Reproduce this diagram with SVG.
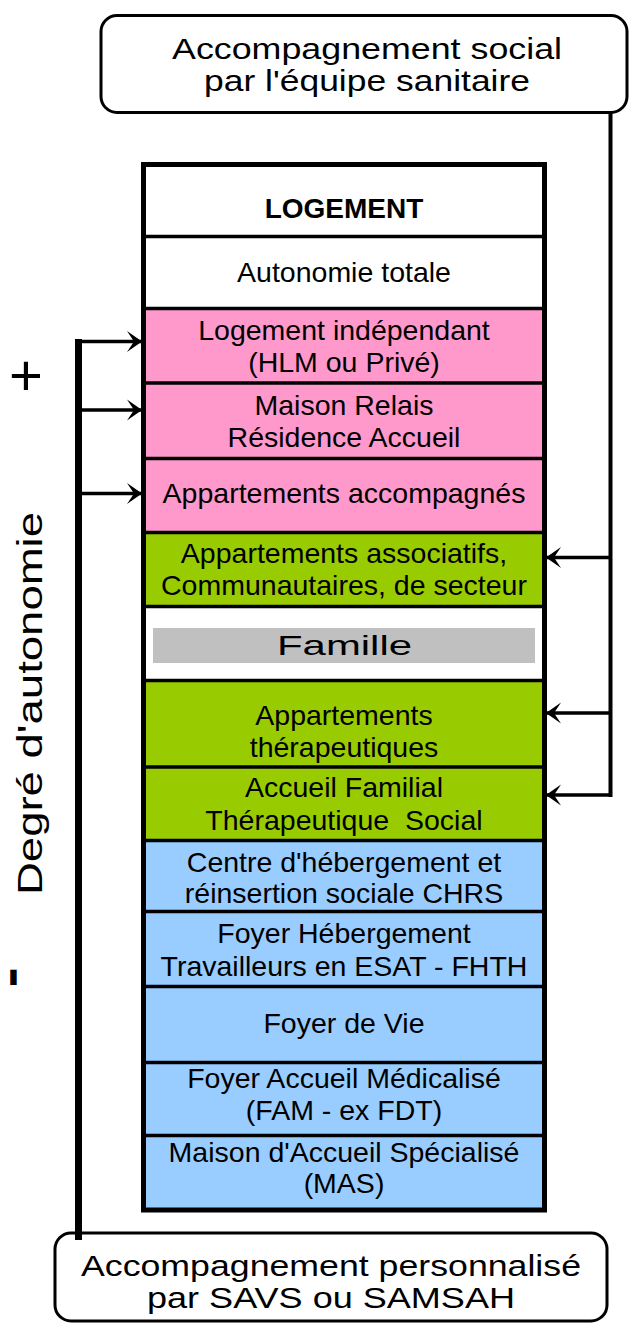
<svg xmlns="http://www.w3.org/2000/svg" width="630" height="1323" viewBox="0 0 630 1323">
<style>
  .t { font-family: "Liberation Sans", Arial, sans-serif; font-size: 28.5px; fill: #000; text-anchor: middle; }
  .b { font-weight: bold; font-size: 28px; }
  .big { font-family: "Liberation Sans", Arial, sans-serif; font-size: 28.6px; fill: #000; text-anchor: middle; }
  .pink { fill: #ff99cc; }
  .green { fill: #99cc00; }
  .blue { fill: #99ccff; }
  .white { fill: #ffffff; }
  .sep { stroke: #000; stroke-width: 3.5; }
  .conn { stroke: #000; fill: none; }
  .box { fill: #fff; stroke: #000; stroke-width: 3; }
</style>
<defs>
  <marker id="arr" viewBox="-16 -12 18 24" refX="0" refY="0" markerWidth="18" markerHeight="24" markerUnits="userSpaceOnUse" orient="auto">
    <path d="M1,0 L-14,-10.5 L-7,0 L-14,10.5 Z" fill="#000"/>
  </marker>
</defs>
<rect width="630" height="1323" fill="#fff"/>

<g id="top-box">
  <rect class="box" x="101" y="15.5" width="526" height="97" rx="16"/>
  <text class="big" x="367" y="59" textLength="390" lengthAdjust="spacingAndGlyphs">Accompagnement social</text>
  <text class="big" x="367" y="91" textLength="326" lengthAdjust="spacingAndGlyphs">par l'équipe sanitaire</text>
</g>

<g id="bottom-box">
  <rect class="box" x="55" y="1233" width="552" height="88" rx="16"/>
  <text class="big" x="331" y="1276" textLength="500" lengthAdjust="spacingAndGlyphs">Accompagnement personnalisé</text>
  <text class="big" x="331" y="1308" textLength="368" lengthAdjust="spacingAndGlyphs">par SAVS ou SAMSAH</text>
</g>

<g id="axis-labels">
  <text x="26" y="395" font-family="'Liberation Sans', Arial, sans-serif" font-size="58" text-anchor="middle" fill="#000">+</text>
  <text transform="translate(42,703.5) rotate(-90)" font-family="'Liberation Sans', Arial, sans-serif" font-size="35" text-anchor="middle" fill="#000" textLength="383" lengthAdjust="spacingAndGlyphs">Degré d'autonomie</text>
  <text transform="translate(7,977.5) rotate(90) scale(1.6,1)" font-family="'Liberation Sans', Arial, sans-serif" font-size="24" font-weight="bold" text-anchor="middle" fill="#000" stroke="#000" stroke-width="3.5">-</text>
</g>

<g id="row-logement">
  <rect class="white" x="143.5" y="164.5" width="401" height="72"/>
  <text class="t b" x="344" y="218">LOGEMENT</text>
</g>
<g id="row-autonomie">
  <rect class="white" x="143.5" y="236.5" width="401" height="72"/>
  <text class="t" x="344" y="282">Autonomie totale</text>
</g>
<g id="row-logement-independant">
  <rect class="pink" x="143.5" y="308.5" width="401" height="74.5"/>
  <text class="t" x="344" y="340">Logement indépendant</text>
  <text class="t" x="344" y="372">(HLM ou Privé)</text>
</g>
<g id="row-maison-relais">
  <rect class="pink" x="143.5" y="383" width="401" height="75.5"/>
  <text class="t" x="344" y="415">Maison Relais</text>
  <text class="t" x="344" y="447">Résidence Accueil</text>
</g>
<g id="row-appartements-accompagnes">
  <rect class="pink" x="143.5" y="458.5" width="401" height="74"/>
  <text class="t" x="344" y="503">Appartements accompagnés</text>
</g>
<g id="row-appartements-associatifs">
  <rect class="green" x="143.5" y="532.5" width="401" height="74"/>
  <text class="t" x="344" y="563">Appartements associatifs,</text>
  <text class="t" x="344" y="595">Communautaires, de secteur</text>
</g>
<g id="row-famille">
  <rect class="white" x="143.5" y="606.5" width="401" height="74"/>
  <rect x="153" y="628" width="382" height="35" fill="#c0c0c0"/>
  <text class="t" x="344.5" y="655" font-size="30" textLength="135" lengthAdjust="spacingAndGlyphs">Famille</text>
</g>
<g id="row-appartements-therapeutiques">
  <rect class="green" x="143.5" y="680.5" width="401" height="86.5"/>
  <text class="t" x="344" y="725">Appartements</text>
  <text class="t" x="344" y="757">thérapeutiques</text>
</g>
<g id="row-accueil-familial">
  <rect class="green" x="143.5" y="767" width="401" height="73.5"/>
  <text class="t" x="344" y="797">Accueil Familial</text>
  <text class="t" x="344" y="830" style="white-space:pre" xml:space="preserve">Thérapeutique  Social</text>
</g>
<g id="row-chrs">
  <rect class="blue" x="143.5" y="840.5" width="401" height="71"/>
  <text class="t" x="344" y="872">Centre d'hébergement et</text>
  <text class="t" x="344" y="903">réinsertion sociale CHRS</text>
</g>
<g id="row-fhth">
  <rect class="blue" x="143.5" y="911.5" width="401" height="75"/>
  <text class="t" x="344" y="943">Foyer Hébergement</text>
  <text class="t" x="344" y="976">Travailleurs en ESAT - FHTH</text>
</g>
<g id="row-foyer-vie">
  <rect class="blue" x="143.5" y="986.5" width="401" height="76"/>
  <text class="t" x="344" y="1033">Foyer de Vie</text>
</g>
<g id="row-fam">
  <rect class="blue" x="143.5" y="1062.5" width="401" height="73"/>
  <text class="t" x="344" y="1088">Foyer Accueil Médicalisé</text>
  <text class="t" x="344" y="1120">(FAM - ex FDT)</text>
</g>
<g id="row-mas">
  <rect class="blue" x="143.5" y="1135.5" width="401" height="74.5"/>
  <text class="t" x="344" y="1162">Maison d'Accueil Spécialisé</text>
  <text class="t" x="344" y="1193">(MAS)</text>
</g>

<g id="column-frame">
  <line class="sep" x1="143" y1="236.5" x2="545" y2="236.5" stroke-width="6"/>
  <line class="sep" x1="143" y1="308.5" x2="545" y2="308.5"/>
  <line class="sep" x1="143" y1="383" x2="545" y2="383"/>
  <line class="sep" x1="143" y1="458.5" x2="545" y2="458.5"/>
  <line class="sep" x1="143" y1="532.5" x2="545" y2="532.5"/>
  <line class="sep" x1="143" y1="606.5" x2="545" y2="606.5" stroke-width="5"/>
  <line class="sep" x1="143" y1="680.5" x2="545" y2="680.5" stroke-width="4.5"/>
  <line class="sep" x1="143" y1="767" x2="545" y2="767"/>
  <line class="sep" x1="143" y1="840.5" x2="545" y2="840.5"/>
  <line class="sep" x1="143" y1="911.5" x2="545" y2="911.5"/>
  <line class="sep" x1="143" y1="986.5" x2="545" y2="986.5"/>
  <line class="sep" x1="143" y1="1062.5" x2="545" y2="1062.5" stroke-width="4.5"/>
  <line class="sep" x1="143" y1="1135.5" x2="545" y2="1135.5"/>
  <rect x="143.5" y="164.5" width="401" height="1045.5" fill="none" stroke="#000" stroke-width="5"/>
</g>

<g id="connectors">
  <line class="conn" x1="78.5" y1="339" x2="78.5" y2="1240" stroke-width="7"/>
  <line class="conn" x1="78" y1="341.5" x2="141" y2="341.5" stroke-width="3.5" marker-end="url(#arr)"/>
  <line class="conn" x1="78" y1="410" x2="141" y2="410" stroke-width="3.5" marker-end="url(#arr)"/>
  <line class="conn" x1="78" y1="493.5" x2="141" y2="493.5" stroke-width="3.5" marker-end="url(#arr)"/>
  <line class="conn" x1="610.5" y1="113" x2="610.5" y2="797" stroke-width="4"/>
  <line class="conn" x1="612" y1="557.5" x2="547" y2="557.5" stroke-width="3.5" marker-end="url(#arr)"/>
  <line class="conn" x1="612" y1="713" x2="547" y2="713" stroke-width="3.5" marker-end="url(#arr)"/>
  <line class="conn" x1="612" y1="795" x2="547" y2="795" stroke-width="3.5" marker-end="url(#arr)"/>
</g>
</svg>
